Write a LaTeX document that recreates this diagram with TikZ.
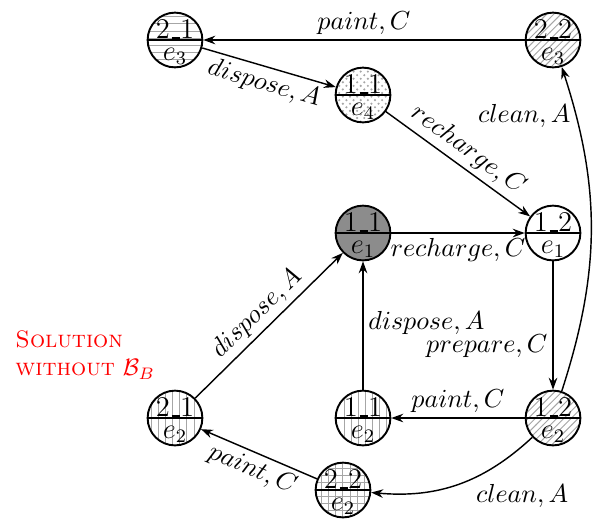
\documentclass[tikz,border=0pt]{standalone}
\usetikzlibrary{patterns,arrows.meta,calc}
\newcommand\usc{\leavevmode\kern.06em\rule[0pt]{0.3em}{0.7pt}}
\tikzset{
  st/.style={circle, draw, line width=0.8pt, minimum size=23pt, inner sep=0pt},
  uptxt/.style={anchor=base, inner sep=0pt, font=\large},
  lotxt/.style={anchor=base, inner sep=0pt, font=\large},
  ed/.style={-{Stealth[length=5pt,width=3.6pt]}, line width=0.6pt},
  lab/.style={inner sep=2pt, font=\fontsize{11}{13}\selectfont},
  pat/.style={pattern=#1, pattern color=gray!70}
}
\newcommand\stnode[5]{%
  \node[st,#3] (#1) at #2 {};
  \draw[line width=0.6pt] (#1.west) -- (#1.east);
  \node[uptxt] (#1t) at ([yshift=0.5pt]#1.center) {#4};
  \node[lotxt] (#1b) at ([yshift=-8.5pt]#1.center) {$#5$};
}
\begin{document}
\begin{tikzpicture}[x=0.42pt,y=-0.42pt]
\useasboundingbox (0,0) rectangle (602,518);
\stnode{a}{(175,40)}{pat=horizontal lines}{2\usc1}{e_3}
\stnode{b}{(363,95)}{pat=crosshatch dots}{1\usc1}{e_4}
\stnode{c}{(553,40)}{pat=north east lines}{2\usc2}{e_3}
\stnode{d}{(363,233)}{fill=black!45}{1\usc1}{e_1}
\stnode{e}{(553,233)}{fill=white}{1\usc2}{e_1}
\stnode{f}{(175,418)}{pat=vertical lines}{2\usc1}{e_2}
\stnode{g}{(363,418)}{pat=vertical lines}{1\usc1}{e_2}
\stnode{h}{(553,418)}{pat=north east lines}{1\usc2}{e_2}
\stnode{i}{(343,490)}{pat=grid}{2\usc2}{e_2}

\draw[ed] (c) -- node[lab,above] {$paint, C$} (a);
\draw[ed] (a) -- node[lab,below,sloped] {$dispose, A$} (b);
\draw[ed] (b) -- node[lab,above,sloped] {$recharge, C$} (e);
\draw[ed] (d) -- node[lab,below,pos=0.5] {$recharge, C$} (e);
\draw[ed] (e) -- node[lab,left,pos=0.66] {$prepare, C$} (h);
\draw[ed] (h) to[bend right=18] node[lab,left,pos=0.86] {$clean, A$} (c);
\draw[ed] (h) -- node[lab,above] {$paint, C$} (g);
\draw[ed] (g) -- node[lab,right,pos=0.52] {$dispose, A$} (d);
\draw[ed] (f) -- node[lab,above,sloped] {$dispose, A$} (d);
\draw[ed] (h) to[bend left=24] node[lab,below right,pos=0.42] {$clean, A$} (i);
\draw[ed] (i) -- node[lab,below,sloped] {$paint, C$} (f);

\node[red, align=left, anchor=north west, inner sep=0pt] (sol) at (15,330)
  {\textsc{Solution}\\\textsc{without} $\mathcal{B}_B$};
\end{tikzpicture}
\end{document}
